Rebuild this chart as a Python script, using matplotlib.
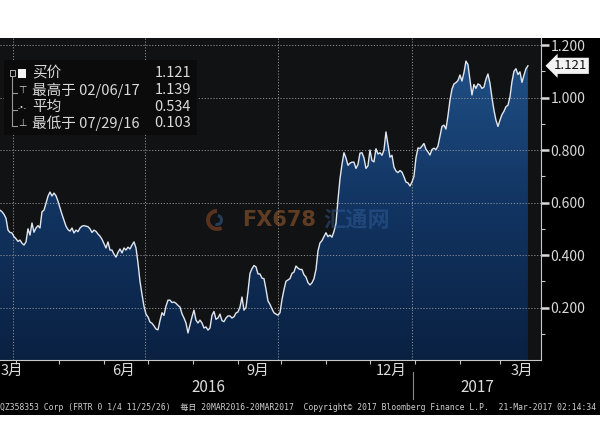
import numpy as np
import pandas as pd
import matplotlib
matplotlib.use("Agg")
import matplotlib.pyplot as plt
import matplotlib.dates as mdates
from matplotlib.patches import Rectangle, Wedge
from matplotlib.colors import LinearSegmentedColormap

plt.rcParams['font.family'] = ['Noto Sans CJK SC', 'DejaVu Sans']

# data: daily bid of QZ358353 Corp, 20MAR2016 - 20MAR2017
start, end = "2016-03-21", "2017-03-20"
bid = [
    0.571, 0.565, 0.555, 0.540, 0.495, 0.486, 0.484, 0.470, 0.462, 0.452,
    0.457, 0.445, 0.438, 0.450, 0.500, 0.476, 0.522, 0.487, 0.503, 0.512,
    0.503, 0.565, 0.571, 0.598, 0.624, 0.640, 0.625, 0.636, 0.626, 0.605,
    0.580, 0.555, 0.533, 0.510, 0.497, 0.491, 0.503, 0.484, 0.495, 0.489,
    0.503, 0.510, 0.512, 0.510, 0.508, 0.500, 0.486, 0.495, 0.490, 0.480,
    0.472, 0.460, 0.443, 0.427, 0.450, 0.419, 0.419, 0.403, 0.392, 0.410,
    0.423, 0.408, 0.427, 0.419, 0.430, 0.423, 0.438, 0.450, 0.427, 0.370,
    0.300, 0.250, 0.205, 0.175, 0.164, 0.145, 0.140, 0.130, 0.118, 0.115,
    0.150, 0.180, 0.170, 0.205, 0.228, 0.228, 0.219, 0.221, 0.216, 0.208,
    0.202, 0.176, 0.160, 0.141, 0.103, 0.133, 0.164, 0.190, 0.152, 0.141,
    0.152, 0.141, 0.122, 0.126, 0.114, 0.122, 0.170, 0.185, 0.155, 0.160,
    0.175, 0.150, 0.146, 0.160, 0.168, 0.168, 0.160, 0.165, 0.179, 0.183,
    0.202, 0.240, 0.190, 0.200, 0.260, 0.330, 0.348, 0.360, 0.355, 0.328,
    0.328, 0.312, 0.310, 0.270, 0.225, 0.212, 0.195, 0.180, 0.175, 0.171,
    0.180, 0.230, 0.268, 0.300, 0.305, 0.310, 0.330, 0.335, 0.358, 0.350,
    0.345, 0.345, 0.325, 0.316, 0.295, 0.286, 0.294, 0.310, 0.345, 0.415,
    0.446, 0.455, 0.470, 0.485, 0.470, 0.476, 0.468, 0.490, 0.520, 0.610,
    0.690, 0.745, 0.790, 0.770, 0.742, 0.750, 0.754, 0.754, 0.730, 0.745,
    0.788, 0.790, 0.770, 0.730, 0.740, 0.800, 0.760, 0.755, 0.805, 0.785,
    0.790, 0.780, 0.800, 0.869, 0.820, 0.773, 0.780, 0.735, 0.720, 0.714,
    0.722, 0.716, 0.698, 0.678, 0.675, 0.663, 0.678, 0.700, 0.770, 0.808,
    0.806, 0.815, 0.825, 0.803, 0.793, 0.781, 0.802, 0.807, 0.802, 0.815,
    0.853, 0.890, 0.895, 0.880, 0.930, 0.990, 1.032, 1.052, 1.057, 1.065,
    1.086, 1.063, 1.095, 1.139, 1.126, 1.067, 1.010, 1.050, 1.035, 1.052,
    1.048, 1.035, 1.040, 1.070, 1.090, 1.055, 1.000, 0.952, 0.914, 0.890,
    0.914, 0.935, 0.948, 0.965, 0.971, 1.002, 1.060, 1.100, 1.110, 1.088,
    1.098, 1.058, 1.085, 1.110, 1.121,
]
last_val, high_val, avg_val, low_val = 1.121, 1.139, 0.534, 0.103
high_date, low_date = "02/06/17", "07/29/16"
y_ticks = [0.2, 0.4, 0.6, 0.8, 1.0, 1.2]
quarter_starts = ["2016-03-30", "2016-06-29", "2016-09-29", "2016-12-30"]
month_labels = ["3月", "6月", "9月", "12月", "3月"]
month_dates = ["2016-03-29", "2016-06-14", "2016-09-15", "2016-12-16", "2017-03-16"]
years = ["2016", "2017"]
footer = ("QZ358353 Corp (FRTR 0 1/4 11/25/26)  每日 20MAR2016-20MAR2017  "
          "Copyright© 2017 Bloomberg Finance L.P.  21-Mar-2017 02:14:34")

dates = pd.date_range(start, end, periods=len(bid))
W, H = 600, 441


def fx(x):
    return x / W


def fy(y):
    return 1 - y / H


fig = plt.figure(figsize=(6, 4.41), dpi=100, facecolor="white")
fig.patches.append(Rectangle((0, fy(415)), 1, fy(38) - fy(415), transform=fig.transFigure,
                             facecolor="black", edgecolor="none", zorder=-1))

ax = fig.add_axes([0, fy(360), fx(541), fy(38) - fy(360)])
ax.set_facecolor("#111214")
xmin, xmax = pd.Timestamp("2016-03-21"), pd.Timestamp("2017-03-29")
ax.set_xlim(xmin, xmax)
ax.set_ylim(0, 1.227)

# gradient fill under the line
poly = ax.fill_between(dates, bid, 0, color="none", lw=0)
cmap = LinearSegmentedColormap.from_list("b", ["#0a2142", "#123563", "#22548c"])
grad = np.linspace(0, 1, 256).reshape(-1, 1)
im = ax.imshow(grad, cmap=cmap, origin="lower", aspect="auto",
               extent=[mdates.date2num(xmin), mdates.date2num(xmax), 0, 1.227], zorder=1)
im.set_clip_path(poly.get_paths()[0], transform=ax.transData)
ax.plot(dates, bid, color="#e2e6ee", lw=1.0, zorder=4)

# grid
for y in y_ticks:
    ax.axhline(y, color="#8a8e96", lw=0.7, ls=(0, (1.2, 1.8)), zorder=3)
for d in quarter_starts:
    ax.axvline(pd.Timestamp(d), color="#8a8e96", lw=0.7, ls=(0, (1.2, 1.8)), zorder=3)

# axes styling
for s in ["top", "left"]:
    ax.spines[s].set_visible(False)
ax.spines["right"].set_color("#c8c8c8")
ax.spines["bottom"].set_color("#c8c8c8")
ax.yaxis.tick_right()
ax.set_yticks(y_ticks)
ax.set_yticklabels(["%.3f" % v for v in y_ticks])
ax.set_yticks(np.arange(0.1, 1.21, 0.2), minor=True)
ax.tick_params(axis="y", which="major", colors="#d8d8d8", labelsize=10, length=6, width=1.8,
               pad=1)
ax.tick_params(axis="y", which="minor", colors="#c8c8c8", length=3, width=0.8)
ax.xaxis.set_major_locator(mdates.MonthLocator())
ax.xaxis.set_major_formatter(plt.NullFormatter())
ax.tick_params(axis="x", colors="#c8c8c8", length=3, width=0.8)

for lab, d in zip(month_labels, month_dates):
    ax.text(pd.Timestamp(d), -0.012, lab, transform=ax.get_xaxis_transform(),
            ha="center", va="top", color="#dcdcdc", fontsize=10.5)

# year labels and separator
fig.text(fx(208), fy(388), years[0], ha="center", va="center", color="#dcdcdc", fontsize=11)
fig.text(fx(477), fy(388), years[1], ha="center", va="center", color="#dcdcdc", fontsize=11)
fig.add_artist(plt.Line2D([fx(413), fx(413)], [fy(372), fy(399)], color="#8a8a8a", lw=0.8))

fig.text(fx(0), fy(408), footer, ha="left", va="center", color="#d0d0d0", fontsize=5.75,
         family=["DejaVu Sans Mono", "Noto Sans CJK SC"])

# last value tag
ax.annotate("%.3f" % last_val, xy=(1, last_val), xycoords=("axes fraction", "data"),
            xytext=(554, 0), textcoords=("figure pixels", "offset points"),
            ha="left", va="center", fontsize=9.5, color="#111111",
            bbox=dict(boxstyle="larrow,pad=0.12", fc="#f2f2f2", ec="none"),
            annotation_clip=False)

# legend box
fig.patches.append(Rectangle((fx(4), fy(135)), fx(193), fy(60) - fy(135), transform=fig.transFigure,
                             facecolor="#0b0b0c", edgecolor="none", zorder=5))
rows = [("买价", "", "%.3f" % last_val),
        ("最高于", high_date, "%.3f" % high_val),
        ("平均", "", "%.3f" % avg_val),
        ("最低于", low_date, "%.3f" % low_val)]
row_y = [73, 90, 107, 123]
for (name, d, v), y in zip(rows, row_y):
    fig.text(fx(32), fy(y), name + (" " + d if d else ""), ha="left", va="center",
             color="#dadada", fontsize=10.5, zorder=6)
    fig.text(fx(191), fy(y), v, ha="right", va="center", color="#dadada", fontsize=10.5, zorder=6)
# tree bracket and icons
fig.add_artist(plt.Line2D([fx(12), fx(12)], [fy(77), fy(126)], color="#9a9a9a", lw=0.8, zorder=6))
for y in row_y[1:]:
    fig.add_artist(plt.Line2D([fx(12), fx(17)], [fy(y + 3), fy(y + 3)], color="#9a9a9a", lw=0.8, zorder=6))
fig.patches.append(Rectangle((fx(9.5), fy(76)), fx(5), fy(70) - fy(76), transform=fig.transFigure,
                             facecolor="none", edgecolor="#b0b0b0", lw=0.7, zorder=6))
fig.patches.append(Rectangle((fx(18), fy(78)), fx(8), fy(69) - fy(78), transform=fig.transFigure,
                             facecolor="#f4f4f4", edgecolor="none", zorder=6))
fig.text(fx(22), fy(90), "⊤", ha="center", va="center", color="#cfcfcf", fontsize=7, zorder=6,
         family="DejaVu Sans")
fig.text(fx(22), fy(107), "-•-", ha="center", va="center", color="#cfcfcf", fontsize=5, zorder=6,
         family="DejaVu Sans")
fig.text(fx(22), fy(123), "⊥", ha="center", va="center", color="#cfcfcf", fontsize=7, zorder=6,
         family="DejaVu Sans")

# watermark
fig.patches.append(Wedge((217, 441 - 220), 11, 90, 300, width=4, transform=None,
                         facecolor="#a0502a", alpha=0.5, zorder=5))
fig.patches.append(Wedge((217, 441 - 220), 6, 250, 80, width=3, transform=None,
                         facecolor="#3d6aa0", alpha=0.5, zorder=5))
fig.text(fx(242), fy(220), "FX678", ha="left", va="center", color="#a0602e", alpha=0.55,
         fontsize=15, fontweight="bold", family="DejaVu Sans", zorder=5)
fig.text(fx(323), fy(220), "汇通网", ha="left", va="center", color="#3a6aa8", alpha=0.4,
         fontsize=16, fontweight="bold", zorder=5)

fig.savefig("out.png", dpi=100, facecolor="white")
